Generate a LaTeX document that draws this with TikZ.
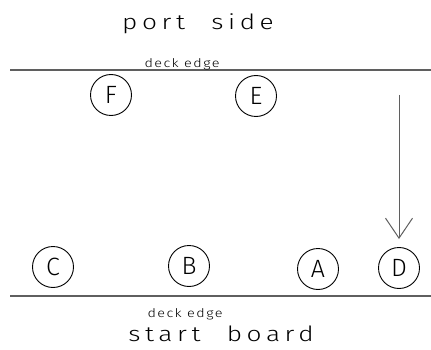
\documentclass[tikz,border=0pt]{standalone}
\usepackage{fontspec}
\newfontfamily\cadfont{Fira Sans Light}[FakeStretch=1.2, LetterSpace=12]
\newfontfamily\cadwide{Fira Sans Light}[FakeStretch=1.25, LetterSpace=22, WordSpace=2.2]
\newfontfamily\cadnarrow{Fira Sans Light}
\usetikzlibrary{arrows.meta}
\definecolor{deck}{RGB}{95, 95, 95}
\newcommand*{\rad}{20.5}

\begin{document}
\begin{tikzpicture}[
   x=1pt, y=-1pt,
   slot/.style={circle, draw=black, fill=white, line width=0.9, text=black,
                inner sep=0, minimum size=2*\rad,
                font=\cadnarrow\fontsize{25}{25}\selectfont},
   side/.style={anchor=base, text=black, inner sep=0,
                font=\cadwide\fontsize{21}{21}\selectfont},
   edgelabel/.style={anchor=base, text=black, inner sep=0,
                     font=\cadfont\fontsize{12}{12}\selectfont},
   deckline/.style={draw=deck, line width=1.3}
  ]

  % Frame
  \useasboundingbox (0, 0) rectangle (431, 350);

  % Deck edges
  \coordinate (portL) at (10, 70);
  \coordinate (portR) at (431, 70);
  \coordinate (starL) at (10, 296);
  \coordinate (starR) at (431, 296);
  \draw[deckline] (portL) -- (portR);
  \draw[deckline] (starL) -- (starR);

  \node (port) at (198, 30) [side] {port side};
  \node (portedge) at (182, 68) [edgelabel] {deck edge};
  \node (staredge) at (185, 317) [edgelabel] {deck edge};
  \node (star) at (221, 341) [side] {start board};

  % Positions
  \node (F) at (111, 95) [slot] {F};
  \node (E) at (256, 96) [slot] {E};

  \node (C) at (53, 267) [slot] {C};
  \node (B) at (189, 266) [slot] {B};
  \node (A) at (318, 269) [slot] {A};
  \node (D) at (399, 268) [slot] {D};

  \coordinate (Dstart) at (399, 95);
  \draw[->, >={Straight Barb[length=20pt, width=27pt]}, color=deck,
        line width=1, shorten >=8pt] (Dstart) -- (D);

\end{tikzpicture}
\end{document}
